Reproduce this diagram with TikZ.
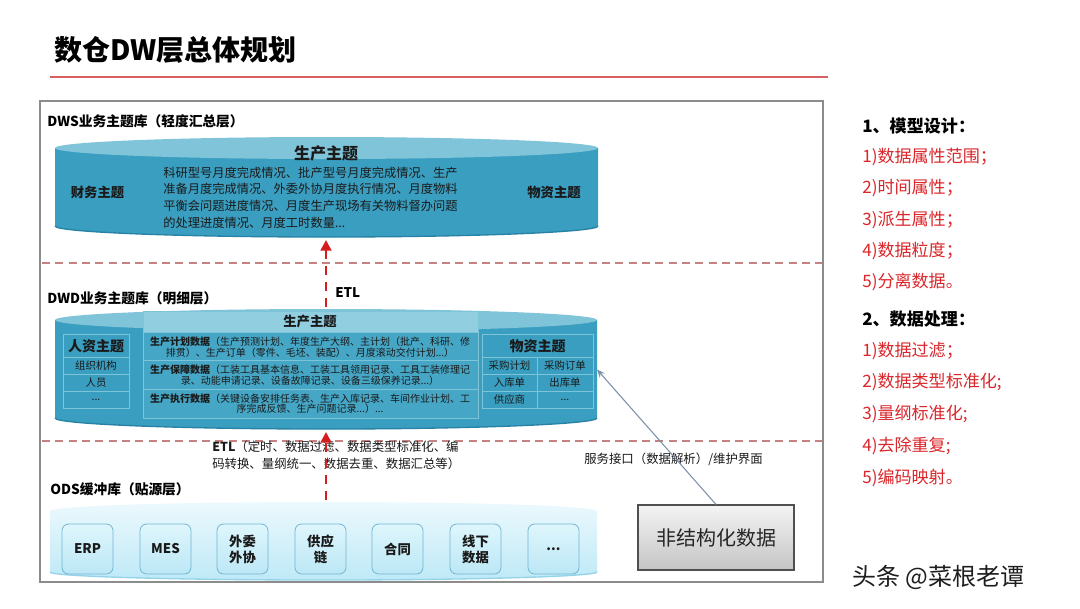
\documentclass[tikz,border=0pt]{standalone}
\usepackage{fontspec}
\setmainfont{Noto Sans CJK SC}
\usetikzlibrary{arrows.meta}
\definecolor{cylbody}{RGB}{58,158,192}
\definecolor{cylrim}{RGB}{40,130,165}
\definecolor{cyltop}{RGB}{128,196,218}
\definecolor{panelfill}{RGB}{70,166,198}
\definecolor{hdrfill}{RGB}{145,206,224}
\definecolor{cellline}{RGB}{125,196,216}
\definecolor{odstop}{RGB}{236,249,253}
\definecolor{odsbot}{RGB}{190,233,247}
\definecolor{odsrim}{RGB}{150,210,232}
\definecolor{boxline}{RGB}{115,182,210}
\definecolor{sepc}{RGB}{196,130,130}
\definecolor{arrred}{RGB}{212,30,30}
\definecolor{listred}{RGB}{218,38,42}
\definecolor{framec}{RGB}{140,140,140}
\definecolor{titleline}{RGB}{214,96,96}
\definecolor{txt}{RGB}{26,26,26}
\definecolor{greyarr}{RGB}{125,145,170}
\tikzset{
  holder/.style={inner sep=0pt, outer sep=0pt, minimum width=540*0.75pt},
  layerlabel/.style={anchor=west, inner sep=0pt, text=black, font=\bfseries\fontsize{10.3}{12}\selectfont},
  sepline/.style={sepc, line width=1.1pt, dash pattern=on 6pt off 4pt},
  redarrow/.style={arrred, line width=2.2pt, dash pattern=on 7pt off 5pt, -{Triangle[width=8pt,length=8pt]}},
  greyarrow/.style={greyarr, line width=0.8pt, -{Stealth[width=5pt,length=6pt]}},
  subj/.style={inner sep=0pt, text=txt, font=\bfseries\fontsize{10}{12}\selectfont},
  cell/.style={inner sep=0pt, text=txt, font=\fontsize{7.8}{9}\selectfont},
  rowtext/.style={inner sep=0pt, align=center, text=txt, font=\fontsize{7.5}{7.9}\selectfont},
  srcbox/.style={draw=boxline, line width=0.6pt, rounded corners=5pt, top color={rgb,255:red,222;green,246;blue,252}, bottom color={rgb,255:red,188;green,231;blue,246}, minimum width=51*0.75pt, minimum height=50*0.75pt, align=center, inner sep=0pt, text=txt, font=\bfseries\fontsize{10}{12}\selectfont},
  unsbox/.style={draw={rgb,255:red,80;green,80;blue,80}, line width=0.8pt, top color={rgb,255:red,244;green,244;blue,244}, bottom color={rgb,255:red,196;green,196;blue,196}, minimum width=156*0.75pt, minimum height=65*0.75pt, inner sep=0pt, text={rgb,255:red,38;green,38;blue,38}, font=\fontsize{15}{18}\selectfont},
  listhead/.style={anchor=west, inner sep=0pt, text=black, font=\bfseries\fontsize{12.8}{15}\selectfont},
  listitem/.style={anchor=west, inner sep=0pt, text=listred, font=\fontsize{12.8}{15}\selectfont},
}
\begin{document}
\begin{tikzpicture}[x=0.75pt,y=-0.75pt]
\useasboundingbox (0,0) rectangle (1080,608);
\fill[white] (0,0) rectangle (1080,608);

% title
\node[anchor=west, inner sep=0pt, text=black, font=\bfseries\fontsize{21}{24}\selectfont] (title) at (54,50) {数仓DW层总体规划};
\draw[titleline, line width=1.1pt] (50,77) -- (828,77);

% frame
\draw[framec, line width=1.2pt, fill=white] (40,101) rectangle (823,582);

% ---------- DWS ----------
\node[layerlabel] (dwslabel) at (47,121) {DWS业务主题库（轻度汇总层）};
\fill[cylbody] (55,148) -- (55,226) arc[start angle=180,end angle=360,x radius=203.625pt,y radius=8.25pt] -- (598,148) -- cycle;
\draw[cylrim, line width=1pt] (55,226) arc[start angle=180,end angle=360,x radius=203.625pt,y radius=8.25pt];
\fill[cyltop] (326.5,148) ellipse[x radius=203.625pt, y radius=8.25pt];
\node[holder, minimum height=103*0.75pt] (dws) at (326,188.5) {};
\node[subj, font=\bfseries\fontsize{12}{14}\selectfont] (dwsprod) at (326,153) {生产主题};
\node[inner sep=0pt, align=left, text=txt, font=\fontsize{9.2}{12.5}\selectfont] (dwstext) at (310.5,197.5) {科研型号月度完成情况、批产型号月度完成情况、生产\\准备月度完成情况、外委外协月度执行情况、月度物料\\平衡会问题进度情况、月度生产现场有关物料督办问题\\的处理进度情况、月度工时数量...};
\node[subj] (dwsfin) at (97.5,192) {财务主题};
\node[subj] (dwsmat) at (554,192) {物资主题};

\draw[sepline] (42,263) -- (822,263);

% ---------- DWD ----------
\node[layerlabel] (dwdlabel) at (47,298) {DWD业务主题库（明细层）};
\node[anchor=west, inner sep=0pt, text=black, font=\bfseries\fontsize{10}{12}\selectfont] (etl1) at (335,293) {ETL};
\fill[cylbody] (55,320) -- (55,418) arc[start angle=180,end angle=360,x radius=203.25pt,y radius=8.25pt] -- (597,320) -- cycle;
\draw[cylrim, line width=1pt] (55,418) arc[start angle=180,end angle=360,x radius=203.25pt,y radius=8.25pt];
\fill[cyltop] (326,320) ellipse[x radius=203.25pt, y radius=8.25pt];
\node[holder, minimum width=542*0.75pt, minimum height=125*0.75pt] (dwd) at (326,369.5) {};

% middle panel
\fill[panelfill] (143,332) rectangle (478,418);
\fill[hdrfill] (143,311) rectangle (478,332);
\draw[cellline, line width=0.6pt] (143,311) rectangle (478,418);
\draw[cellline, line width=0.6pt] (143,332) -- (478,332) (143,360) -- (478,360) (143,389) -- (478,389);
\node[subj] (dwdprod) at (310,321.5) {生产主题};
\node[rowtext] (row1) at (310,347) {\textbf{生产计划数据}（生产预测计划、年度生产大纲、主计划（批产、科研、修\\排贯）、生产订单（零件、毛坯、装配）、月度滚动交付计划...）};
\node[rowtext] (row2) at (310,375) {\textbf{生产保障数据}（工装工具基本信息、工装工具领用记录、工具工装修理记\\录、动能申请记录、设备故障记录、设备三级保养记录...）};
\node[rowtext] (row3) at (310,403.5) {\textbf{生产执行数据}（关键设备安排任务表、生产入库记录、车间作业计划、工\\序完成反馈、生产问题记录...）...};

% left panel
\draw[cellline, line width=0.6pt] (63,334) rectangle (129,408);
\draw[cellline, line width=0.6pt] (63,357) -- (129,357) (63,374) -- (129,374) (63,391) -- (129,391);
\node[subj, font=\bfseries\fontsize{10.5}{12}\selectfont] (hr) at (96,346) {人资主题};
\node[cell] (hr1) at (96,365.5) {组织机构};
\node[cell] (hr2) at (96,382.5) {人员};
\node[cell] (hr3) at (96,399.5) {...};

% right panel
\draw[cellline, line width=0.6pt] (482,334) rectangle (593,408);
\draw[cellline, line width=0.6pt] (482,357) -- (593,357) (482,374) -- (593,374) (482,391) -- (593,391) (537,357) -- (537,408);
\node[subj, font=\bfseries\fontsize{10.5}{12}\selectfont] (mat) at (537.5,346) {物资主题};
\node[cell] (m1) at (509.5,365.5) {采购计划};
\node[cell] (m2) at (565,365.5) {采购订单};
\node[cell] (m3) at (509.5,382.5) {入库单};
\node[cell] (m4) at (565,382.5) {出库单};
\node[cell] (m5) at (509.5,399.5) {供应商};
\node[cell] (m6) at (565,399.5) {...};

\draw[sepline] (42,441) -- (822,441);

\node[anchor=west, inner sep=0pt, align=left, text=txt, font=\fontsize{9.3}{12.75}\selectfont] (etl2) at (212,455) {\textbf{ETL}（定时、数据过滤、数据类型标准化、编\\码转换、量纲统一、数据去重、数据汇总等）};
\node[inner sep=0pt, text=txt, font=\fontsize{9.3}{12}\selectfont] (svc) at (673.5,459) {服务接口（数据解析）/维护界面};

% ---------- ODS ----------
\node[layerlabel] (odslabel) at (50,489) {ODS缓冲库（贴源层）};
\shade[top color=odstop, bottom color=odsbot] (50,511) -- (50,572) arc[start angle=180,end angle=360,x radius=205.125pt,y radius=6pt] -- (597,511) arc[start angle=0,end angle=180,x radius=205.125pt,y radius=6.75pt] -- cycle;
\draw[odsrim, line width=1pt] (50,572) arc[start angle=180,end angle=360,x radius=205.125pt,y radius=6pt];
\node[holder, minimum height=80*0.75pt] (ods) at (326,540) {};

\node[srcbox] (erp) at (87.5,549) {ERP};
\node[srcbox] (mes) at (165.5,549) {MES};
\node[srcbox] (wx) at (242.5,549) {外委\\外协};
\node[srcbox] (gyl) at (320.5,549) {供应\\链};
\node[srcbox] (ht) at (397.5,549) {合同};
\node[srcbox] (xx) at (475.5,549) {线下\\数据};
\node[srcbox] (etc) at (553.5,549) {...};

% unstructured
\node[unsbox] (uns) at (716,537.5) {非结构化数据};

% connectors
\draw[redarrow] (dwd.north) -- (dws.south);
\draw[redarrow] (ods.north) -- (dwd.south);
\draw[greyarrow] (uns.north) -- (dwd.east);

% right list
\node[listhead] (h1) at (862,126) {1、模型设计：};
\node[listitem] (a1) at (862,157) {1)数据属性范围；};
\node[listitem] (a2) at (862,188) {2)时间属性；};
\node[listitem] (a3) at (862,220) {3)派生属性；};
\node[listitem] (a4) at (862,251) {4)数据粒度；};
\node[listitem] (a5) at (862,282) {5)分离数据。};
\node[listhead] (h2) at (862,319) {2、数据处理：};
\node[listitem] (b1) at (862,351) {1)数据过滤；};
\node[listitem] (b2) at (862,382) {2)数据类型标准化;};
\node[listitem] (b3) at (862,414) {3)量纲标准化;};
\node[listitem] (b4) at (862,446) {4)去除重复;};
\node[listitem] (b5) at (862,478) {5)编码映射。};

% watermark
\node[anchor=west, inner sep=0pt, text=white, font=\fontsize{18}{20}\selectfont] (wmshadow) at (850.5,575.5) {头条 @菜根老谭};
\node[anchor=west, inner sep=0pt, text={rgb,255:red,30;green,30;blue,30}, font=\fontsize{18}{20}\selectfont] (wm) at (852,577) {头条 @菜根老谭};
\end{tikzpicture}
\end{document}
